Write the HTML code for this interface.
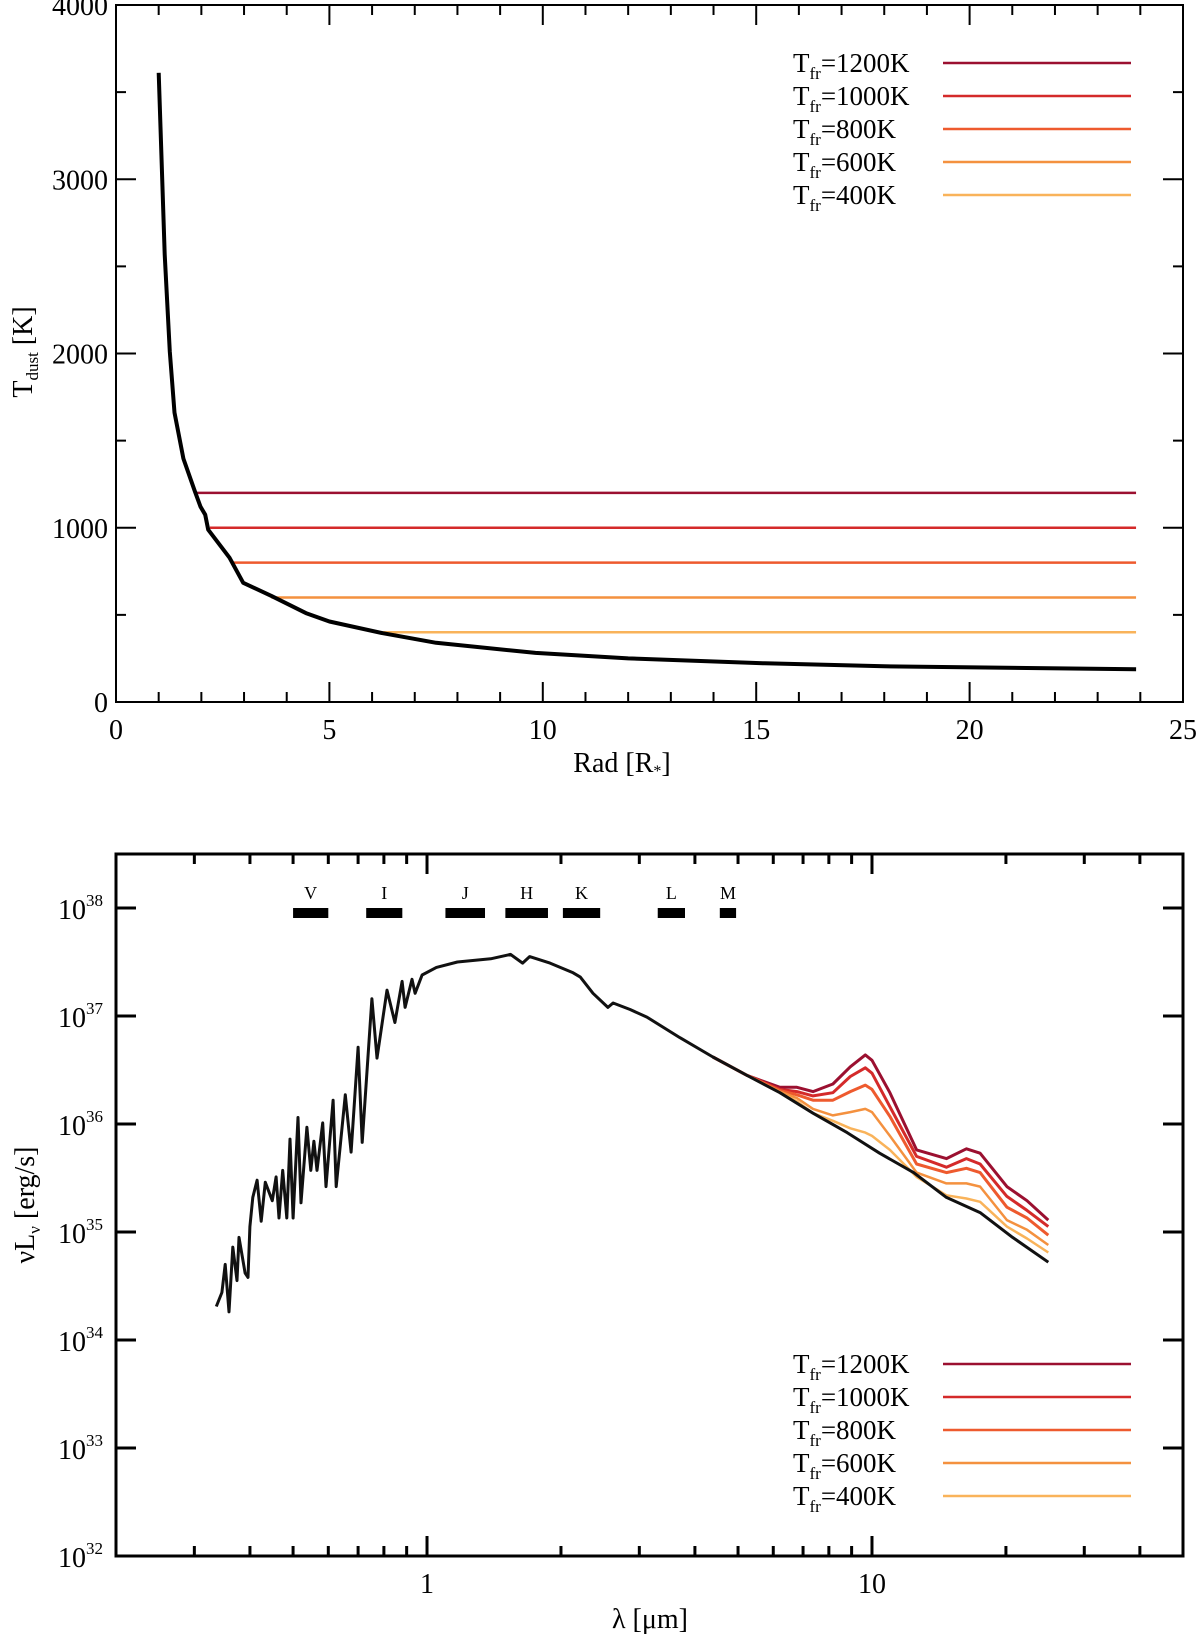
<!DOCTYPE html>
<html><head><meta charset="utf-8"><style>
html,body{margin:0;padding:0;background:#fff;}
svg{display:block;font-family:"Liberation Serif",serif;}
</style></head><body>
<svg id="chart" width="1200" height="1634" viewBox="0 0 1200 1634" xmlns="http://www.w3.org/2000/svg"></svg>
<script>
// ---- top panel data ----
const radX = [1.0,1.14,1.26,1.37,1.58,1.85,1.98,2.09,2.16,2.66,2.98,3.64,4.45,5.0,6.25,7.5,9.83,12.0,15.2,18.0,23.9];
const tDust = [3611,2569,2011,1661,1397,1207,1121,1075,989,828,684,609,510,462,395,340,282,250,222,205,188];
const tfrLabels = ["1200K","1000K","800K","600K","400K"];
const tfrValues = [1200,1000,800,600,400];
const tfrStartR = [1.85,2.2,2.74,3.64,6.25];
const tfrColors = ["#9b1030","#d42a2a","#ee5a2e","#f4913f","#f9b35a"];
const topXTicks = [0,5,10,15,20,25];
const topYTicks = [0,1000,2000,3000,4000];

// ---- bottom panel data ----
const specLam = [0.336,0.346,0.352,0.359,0.366,0.374,0.378,0.390,0.396,0.400,0.406,0.415,0.424,0.433,0.449,0.458,0.465,0.474,0.484,0.492,0.500,0.513,0.521,0.537,0.548,0.557,0.566,0.583,0.593,0.615,0.625,0.655,0.675,0.700,0.715,0.752,0.772,0.813,0.847,0.879,0.893,0.925,0.940,0.975,1.05,1.17,1.39,1.54,1.64,1.70,1.89,2.13,2.21,2.36,2.55,2.62,2.86,3.12,3.70,4.39,5.24,6.21,7.37,8.79,10.4,12.4,14.7,17.5,20.7,24.9];
const specLogL = [34.31,34.44,34.70,34.26,34.86,34.55,34.95,34.62,34.58,35.05,35.32,35.48,35.10,35.46,35.29,35.51,35.13,35.57,35.13,35.86,35.13,36.06,35.27,35.97,35.57,35.84,35.57,36.01,35.42,36.22,35.42,36.27,35.74,36.71,35.83,37.16,36.61,37.24,36.94,37.32,37.08,37.34,37.21,37.38,37.45,37.50,37.53,37.57,37.49,37.55,37.49,37.40,37.36,37.21,37.08,37.12,37.06,36.99,36.80,36.62,36.45,36.29,36.10,35.92,35.73,35.55,35.32,35.18,34.95,34.72];
const dustLam = [4.39,5.24,6.21,6.78,7.37,8.17,8.94,9.66,10.0,10.97,12.6,14.7,16.3,17.5,20.1,22.3,24.9];
const dust1200 = [36.62,36.45,36.34,36.34,36.30,36.37,36.53,36.64,36.59,36.29,35.76,35.68,35.77,35.73,35.42,35.29,35.11];
const dust1000 = [36.62,36.45,36.32,36.30,36.26,36.29,36.44,36.52,36.47,36.16,35.70,35.60,35.68,35.63,35.33,35.20,35.05];
const dust800  = [36.62,36.45,36.31,36.27,36.22,36.22,36.30,36.36,36.32,36.07,35.63,35.55,35.59,35.55,35.23,35.13,34.97];
const dust600  = [36.62,36.45,36.30,36.24,36.14,36.08,36.11,36.14,36.11,35.89,35.55,35.45,35.45,35.42,35.11,35.02,34.88];
const dust400  = [36.62,36.45,36.29,36.21,36.10,36.03,35.96,35.92,35.89,35.76,35.51,35.34,35.31,35.28,35.05,34.94,34.81];
const bandNames = ["V","I","J","H","K","L","M"];
const bandLo = [0.50,0.73,1.10,1.50,2.02,3.30,4.55];
const bandHi = [0.60,0.88,1.35,1.87,2.45,3.80,4.95];
const botYTicks = [32,33,34,35,36,37,38];

const NS="http://www.w3.org/2000/svg";
const svg=document.getElementById('chart');
function mk(tag,attrs,parent){const e=document.createElementNS(NS,tag);for(const k in attrs)e.setAttribute(k,attrs[k]);(parent||svg).appendChild(e);return e;}

// ===== TOP PANEL =====
const T={l:116,r:1183,t:5,b:702};
const tx=v=>T.l+(v-0)/25*(T.r-T.l);
const ty=v=>T.b-(v/4000)*(T.b-T.t);
const gTop=mk('g',{});


for(let v=0;v<=25;v++){const major=v%5===0;const L=major?20:10;const x=tx(v);
  const a=mk('line',{x1:x,y1:T.b,x2:x,y2:T.b-L,stroke:'#000','stroke-width':2},gTop);
  
  const b=mk('line',{x1:x,y1:T.t,x2:x,y2:T.t+L,stroke:'#000','stroke-width':2},gTop);
  }
for(let v=0;v<=4000;v+=500){const major=v%1000===0;const L=major?20:10;const y=ty(v);
  const a=mk('line',{x1:T.l,y1:y,x2:T.l+L,y2:y,stroke:'#000','stroke-width':2},gTop);
  
  const b=mk('line',{x1:T.r,y1:y,x2:T.r-L,y2:y,stroke:'#000','stroke-width':2},gTop);
  }
topXTicks.forEach(v=>{const t=mk('text',{x:tx(v),y:739,'font-size':28,'text-anchor':'middle'},gTop);t.textContent=v;
  });
topYTicks.forEach(v=>{const t=mk('text',{x:108,y:ty(v)+10,'font-size':28,'text-anchor':'end'},gTop);t.textContent=v;
  });
tfrValues.forEach((v,i)=>{const l=mk('line',{x1:tx(tfrStartR[i]),y1:ty(v),x2:tx(23.9),y2:ty(v),stroke:tfrColors[i],'stroke-width':2.5},gTop);
  });
const cp=mk('path',{d:radX.map((r,i)=>(i?'L':'M')+tx(r).toFixed(1)+','+ty(tDust[i]).toFixed(1)).join(''),fill:'none',stroke:'#000','stroke-width':4,'stroke-linejoin':'round'},gTop);

const fr1=mk('rect',{x:T.l,y:T.t,width:T.r-T.l,height:T.b-T.t,fill:'none',stroke:'#000','stroke-width':2},gTop);

const xt1=mk('text',{x:622,y:772,'font-size':28,'text-anchor':'middle'},gTop);

xt1.innerHTML='Rad [R<tspan font-size="16" dy="4">*</tspan><tspan dy="-4">]</tspan>';
const yt1=mk('text',{transform:'translate(32,352) rotate(-90)','font-size':28,'text-anchor':'middle'},gTop);

yt1.innerHTML='T<tspan font-size="17" dy="6">dust</tspan><tspan dy="-6"> [K]</tspan>';

function legend(g,y0){
  tfrLabels.forEach((lab,i)=>{const y=y0+i*33;
    const t=mk('text',{x:793,y:y+9,'font-size':27},g);
    
    t.innerHTML='T<tspan font-size="17" dy="7">fr</tspan><tspan dy="-7">='+lab+'</tspan>';
    const l=mk('line',{x1:943,y1:y,x2:1131,y2:y,stroke:tfrColors[i],'stroke-width':2.5},g);
    });
}
legend(gTop,63);

// ===== BOTTOM PANEL =====
const B={l:116,r:1183,t:854,b:1556};
const lxmin=Math.log10(0.2),lxmax=Math.log10(50);
const bx=v=>B.l+(Math.log10(v)-lxmin)/(lxmax-lxmin)*(B.r-B.l);
const by=v=>B.b-(v-32)/6.5*(B.b-B.t);
const gBot=mk('g',{});


const xtv=[0.2,0.3,0.4,0.5,0.6,0.7,0.8,0.9,1,2,3,4,5,6,7,8,9,10,20,30,40,50];
xtv.forEach(v=>{const major=(v===1||v===10);const L=major?20:10;const x=bx(v);
  const a=mk('line',{x1:x,y1:B.b,x2:x,y2:B.b-L,stroke:'#000','stroke-width':3},gBot);
  
  const b=mk('line',{x1:x,y1:B.t,x2:x,y2:B.t+L,stroke:'#000','stroke-width':3},gBot);
  });
[1,10].forEach(v=>{const t=mk('text',{x:bx(v),y:1593,'font-size':28,'text-anchor':'middle'},gBot);t.textContent=v;
  });
botYTicks.forEach(v=>{const y=by(v);
  const a=mk('line',{x1:B.l,y1:y,x2:B.l+20,y2:y,stroke:'#000','stroke-width':3},gBot);
  
  const b=mk('line',{x1:B.r,y1:y,x2:B.r-20,y2:y,stroke:'#000','stroke-width':3},gBot);
  
  const t=mk('text',{x:58,y:y+11,'font-size':28},gBot);
  
  t.innerHTML='10<tspan font-size="17" dy="-13">'+v+'</tspan>';});
bandNames.forEach((n,i)=>{const x1=bx(bandLo[i]),x2=bx(bandHi[i]);
  const r=mk('rect',{x:x1,y:908,width:x2-x1,height:10,fill:'#000'},gBot);
  
  const t=mk('text',{x:(x1+x2)/2,y:899,'font-size':18,'text-anchor':'middle'},gBot);t.textContent=n;
  });
const dustSeries=[dust1200,dust1000,dust800,dust600,dust400];
dustSeries.forEach((s,k)=>{const p=mk('path',{d:dustLam.map((l,i)=>(i?'L':'M')+bx(l).toFixed(1)+','+by(s[i]).toFixed(1)).join(''),fill:'none',stroke:tfrColors[k],'stroke-width':k<3?3:2.5,'stroke-linejoin':'round'},gBot);
  });
const sp=mk('path',{d:specLam.map((l,i)=>(i?'L':'M')+bx(l).toFixed(1)+','+by(specLogL[i]).toFixed(1)).join(''),fill:'none',stroke:'#111','stroke-width':3,'stroke-linejoin':'round'},gBot);

const fr2=mk('rect',{x:B.l,y:B.t,width:B.r-B.l,height:B.b-B.t,fill:'none',stroke:'#000','stroke-width':3},gBot);

const xt2=mk('text',{x:650,y:1628,'font-size':28,'text-anchor':'middle'},gBot);

xt2.textContent='λ [μm]';
const yt2=mk('text',{transform:'translate(34,1205) rotate(-90)','font-size':28,'text-anchor':'middle'},gBot);

yt2.innerHTML='νL<tspan font-size="17" dy="6">ν</tspan><tspan dy="-6"> [erg/s]</tspan>';
legend(gBot,1364);
</script>
</body></html>
